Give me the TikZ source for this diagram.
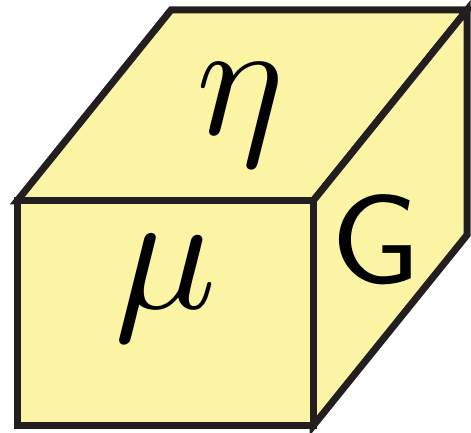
\documentclass[tikz,border=0pt]{standalone}
\usetikzlibrary{calc}
\definecolor{cubeyellow}{HTML}{FBF4A4}
\definecolor{cubeedge}{HTML}{231F20}
\newcommand{\cubedepth}{154,191}
\tikzset{
    face/.style={
        draw=cubeedge,
        fill=cubeyellow,
        line width=7pt,
        line join=miter
    },
    face label/.style={
        inner sep=0pt,
        text=black
    }
}

\begin{document}
\begin{tikzpicture}[x=1pt, y=1pt]

    \useasboundingbox (0,0) rectangle (471,433);

    % -------------------------------------------------------------------------
    % Corners of the cube (front face, then the back edge).
    % -------------------------------------------------------------------------
    \coordinate (front tl) at (17,232);
    \coordinate (front tr) at (313,232);
    \coordinate (front br) at (313,7);
    \coordinate (front bl) at (17,7);
    \coordinate (back tl) at ($(front tl)+(\cubedepth)$);
    \coordinate (back tr) at ($(front tr)+(\cubedepth)$);
    \coordinate (back br) at ($(front br)+(\cubedepth)$);

    % Faces.
    \draw[face] (front tl) -- (back tl) -- (back tr) -- (front tr) -- cycle;
    \draw[face] (front tr) -- (back tr) -- (back br) -- (front br) -- cycle;
    \draw[face] (front tl) rectangle (front br);

    % Labels.
    \node[face label, scale=16.5] (top label) at (240,318) {$\eta$};
    \node[face label, scale=17] (front label) at (166,145) {$\mu$};
    \node[face label, xscale=13.5, yscale=12.6, font=\sffamily] (side label)
        at (376,193) {G};

\end{tikzpicture}
\end{document}
